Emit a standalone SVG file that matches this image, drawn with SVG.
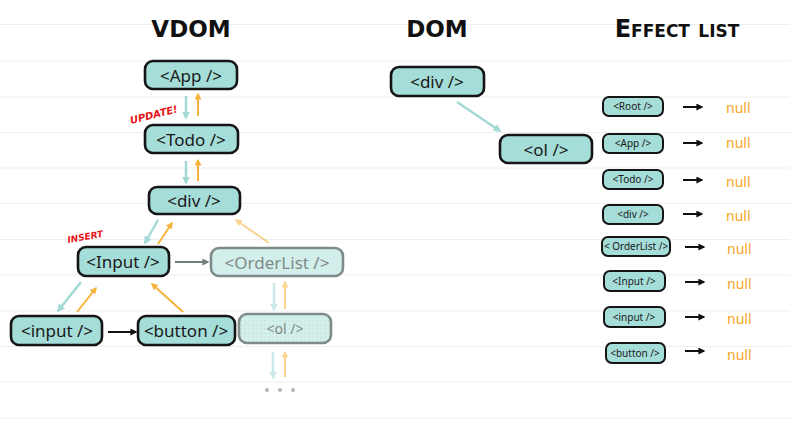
<svg xmlns="http://www.w3.org/2000/svg" width="790" height="441" viewBox="0 0 790 441">
<style>
.bg{stroke:#efefef;stroke-width:1}
.title{font-family:"DejaVu Sans",sans-serif;font-weight:bold;font-size:23px;fill:#111;text-anchor:middle}
.node{fill:#a5ddd8;stroke:#151515;stroke-width:2.6}
.fnode{fill:#d3efec;stroke:#7f8b89;stroke-width:2.6}
.lbl{font-family:"Noto Sans",sans-serif;font-size:17px;fill:#1a1a1a;text-anchor:middle;dominant-baseline:central}
.flbl{font-family:"Noto Sans",sans-serif;font-size:17px;fill:#808a88;text-anchor:middle;dominant-baseline:central}
.snode{fill:#a5ddd8;stroke:#151515;stroke-width:2}
.slbl{font-family:"Noto Sans",sans-serif;font-size:10px;fill:#1a1a1a;text-anchor:middle;dominant-baseline:central}
.null{font-family:"Noto Sans",sans-serif;font-size:14px;fill:#f5a623;dominant-baseline:central}
.tag{font-family:"DejaVu Sans",sans-serif;font-weight:bold;font-size:10px;fill:#e8141b;font-style:italic}
.teal{stroke:#a3d9d4;stroke-width:2.5;fill:none;marker-end:url(#mTeal)}
.orange{stroke:#f7b23b;stroke-width:2;fill:none;marker-end:url(#mOrange)}
.blk{stroke:#111;stroke-width:2;fill:none;marker-end:url(#mBlack)}
.gray{stroke:#6f7f7d;stroke-width:2;fill:none;marker-end:url(#mGray)}
.faint{opacity:0.55}
</style>
<defs>
<marker id="mTeal" viewBox="0 0 10 10" refX="8" refY="5" markerWidth="8" markerHeight="8" markerUnits="userSpaceOnUse" orient="auto"><path d="M0,0L10,5L0,10z" fill="#a3d9d4"/></marker>
<marker id="mOrange" viewBox="0 0 10 10" refX="8" refY="5" markerWidth="7" markerHeight="7" markerUnits="userSpaceOnUse" orient="auto"><path d="M0,0L10,5L0,10z" fill="#f7b23b"/></marker>
<marker id="mBlack" viewBox="0 0 10 10" refX="8" refY="5" markerWidth="7" markerHeight="7" markerUnits="userSpaceOnUse" orient="auto"><path d="M0,0L10,5L0,10z" fill="#111"/></marker>
<marker id="mGray" viewBox="0 0 10 10" refX="8" refY="5" markerWidth="7" markerHeight="7" markerUnits="userSpaceOnUse" orient="auto"><path d="M0,0L10,5L0,10z" fill="#6f7f7d"/></marker>
<pattern id="dots" width="4" height="4" patternUnits="userSpaceOnUse"><rect width="4" height="4" fill="#d3efec"/><circle cx="1" cy="1" r="0.5" fill="#a9c9c6"/></pattern>
</defs>
<rect width="790" height="441" fill="#fff"/>
<g id="background">
<line class="bg" x1="0" y1="24.5" x2="790" y2="24.5"/>
<line class="bg" x1="0" y1="61" x2="790" y2="61"/>
<line class="bg" x1="0" y1="97" x2="790" y2="97"/>
<line class="bg" x1="0" y1="132.5" x2="790" y2="132.5"/>
<line class="bg" x1="0" y1="168" x2="790" y2="168"/>
<line class="bg" x1="0" y1="203.5" x2="790" y2="203.5"/>
<line class="bg" x1="0" y1="239.5" x2="790" y2="239.5"/>
<line class="bg" x1="0" y1="275" x2="790" y2="275"/>
<line class="bg" x1="0" y1="311" x2="790" y2="311"/>
<line class="bg" x1="0" y1="346.5" x2="790" y2="346.5"/>
<line class="bg" x1="0" y1="382" x2="790" y2="382"/>
<line class="bg" x1="0" y1="418" x2="790" y2="418"/>
</g>
<g id="titles">
<text class="title" x="191" y="37">VDOM</text>
<text class="title" x="437" y="37">DOM</text>
<text class="title" x="677" y="37" style="font-variant:small-caps;font-size:24px">Effect list</text>
</g>
<g id="connectors">
<line class="teal" x1="186" y1="96" x2="186" y2="118"/>
<line class="orange" x1="198" y1="116" x2="198" y2="94"/>
<line class="teal" x1="186" y1="161" x2="186" y2="183"/>
<line class="orange" x1="198" y1="181" x2="198" y2="160"/>
<line class="teal" x1="158" y1="220" x2="145" y2="243"/>
<line class="orange" x1="158" y1="244" x2="172" y2="223"/>
<line class="orange faint" x1="269" y1="243" x2="236" y2="220"/>
<line class="gray" x1="175" y1="262" x2="208" y2="262"/>
<line class="teal" x1="81" y1="282" x2="58" y2="311"/>
<line class="orange" x1="77" y1="312" x2="96" y2="288"/>
<line class="orange" x1="183" y1="312" x2="152" y2="284"/>
<line class="blk" x1="108" y1="332" x2="136" y2="332"/>
<line class="teal faint" x1="274" y1="283" x2="274" y2="310"/>
<line class="orange faint" x1="285" y1="309" x2="285" y2="282"/>
<line class="teal faint" x1="273" y1="352" x2="273" y2="378"/>
<line class="orange faint" x1="285" y1="377" x2="285" y2="352"/>
<line class="teal" x1="457" y1="102" x2="500" y2="131"/>
<line class="blk" x1="683" y1="107" x2="702" y2="107"/>
<line class="blk" x1="683" y1="143" x2="702" y2="143"/>
<line class="blk" x1="683" y1="180" x2="702" y2="180"/>
<line class="blk" x1="683" y1="214" x2="702" y2="214"/>
<line class="blk" x1="685" y1="247" x2="704" y2="247"/>
<line class="blk" x1="685" y1="282" x2="704" y2="282"/>
<line class="blk" x1="685" y1="317" x2="704" y2="317"/>
<line class="blk" x1="685" y1="351" x2="704" y2="351"/>
</g>
<g id="vdom-app"><rect class="node" x="145" y="61" width="92" height="28" rx="8"/><text class="lbl" x="191" y="75">&lt;App /&gt;</text></g>
<g id="vdom-todo"><rect class="node" x="145" y="125" width="93" height="28" rx="8"/><text class="lbl" x="191" y="139">&lt;Todo /&gt;</text></g>
<g id="vdom-div"><rect class="node" x="149" y="187" width="91" height="27" rx="8"/><text class="lbl" x="194" y="200">&lt;div /&gt;</text></g>
<g id="vdom-Input"><rect class="node" x="78" y="247" width="91" height="29" rx="8"/><text class="lbl" x="123" y="261">&lt;Input /&gt;</text></g>
<g id="vdom-orderlist"><rect class="fnode" x="211" y="248" width="132" height="28" rx="8"/><text class="flbl" x="277" y="262">&lt;OrderList /&gt;</text></g>
<g id="vdom-input"><rect class="node" x="11" y="316" width="91" height="29" rx="8"/><text class="lbl" x="57" y="330">&lt;input /&gt;</text></g>
<g id="vdom-button"><rect class="node" x="138" y="316" width="97" height="29" rx="8"/><text class="lbl" x="186" y="330">&lt;button /&gt;</text></g>
<g id="vdom-ol"><rect class="fnode" x="239" y="314" width="92" height="29" rx="8" style="fill:url(#dots)"/><text class="flbl" x="285" y="328" style="font-size:14px">&lt;ol /&gt;</text></g>
<g id="vdom-more" fill="#b5b5b5"><circle cx="267" cy="390" r="2"/><circle cx="280" cy="390" r="2"/><circle cx="293" cy="390" r="2"/></g>
<g id="tags">
<text class="tag" x="131" y="124" transform="rotate(-14 131 124)">UPDATE!</text>
<text class="tag" x="68" y="243" transform="rotate(-10 68 243)" style="font-size:9px">INSERT</text>
</g>
<g id="dom-div"><rect class="node" x="391" y="67" width="93" height="29" rx="8"/><text class="lbl" x="437" y="81">&lt;div /&gt;</text></g>
<g id="dom-ol"><rect class="node" x="500" y="135" width="92" height="28" rx="8"/><text class="lbl" x="546" y="149">&lt;ol /&gt;</text></g>
<g id="effect-root"><rect class="snode" x="603" y="97" width="60" height="19" rx="6"/><text class="slbl" x="633" y="106">&lt;Root /&gt;</text></g>
<g id="effect-app"><rect class="snode" x="603" y="134" width="60" height="19" rx="6"/><text class="slbl" x="633" y="143">&lt;App /&gt;</text></g>
<g id="effect-todo"><rect class="snode" x="603" y="170" width="60" height="19" rx="6"/><text class="slbl" x="633" y="179">&lt;Todo /&gt;</text></g>
<g id="effect-div"><rect class="snode" x="603" y="205" width="60" height="19" rx="6"/><text class="slbl" x="633" y="214">&lt;div /&gt;</text></g>
<g id="effect-orderlist"><rect class="snode" x="602" y="237" width="68" height="19" rx="6"/><text class="slbl" x="636" y="246">&lt; OrderList /&gt;</text></g>
<g id="effect-Input"><rect class="snode" x="604" y="271" width="61" height="20" rx="6"/><text class="slbl" x="634" y="281">&lt;Input /&gt;</text></g>
<g id="effect-input"><rect class="snode" x="604" y="307" width="61" height="20" rx="6"/><text class="slbl" x="634" y="317">&lt;input /&gt;</text></g>
<g id="effect-button"><rect class="snode" x="606" y="343" width="59" height="20" rx="6"/><text class="slbl" x="635" y="353">&lt;button /&gt;</text></g>
<g id="nulls">
<text class="null" x="726" y="107">null</text>
<text class="null" x="726" y="142">null</text>
<text class="null" x="726" y="181">null</text>
<text class="null" x="726" y="215">null</text>
<text class="null" x="727" y="248">null</text>
<text class="null" x="727" y="283">null</text>
<text class="null" x="727" y="318">null</text>
<text class="null" x="727" y="354">null</text>
</g>
</svg>
